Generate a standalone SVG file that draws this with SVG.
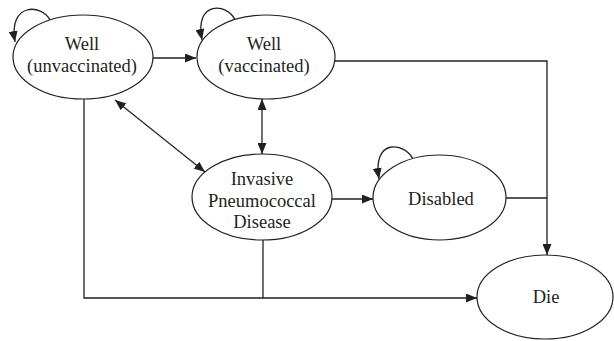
<svg xmlns="http://www.w3.org/2000/svg" width="614" height="341" viewBox="0 0 614 341">
<style>
.node ellipse{fill:#fff;stroke:#231f20;stroke-width:1.2}
.node text{font-family:'Times New Roman','Liberation Serif',Times,'DejaVu Serif','Noto Serif',serif;font-size:18.5px;fill:#231f20;text-anchor:middle}
.conn path{fill:none;stroke:#231f20;stroke-width:1.3}
</style>
<defs>
<marker id="ah" markerUnits="userSpaceOnUse" markerWidth="11" markerHeight="9" refX="11" refY="4.5" orient="auto-start-reverse">
<path d="M0,0 L11,4.5 L0,9 z" fill="#231f20"/>
</marker>
</defs>
<g class="conn">
<path d="M50,20 C42,4 8,2 15,42" marker-end="url(#ah)"/>
<path d="M235,20 C228,3 194,0 202,40" marker-end="url(#ah)"/>
<path d="M413,159 C404,142 372,138 379,179" marker-end="url(#ah)"/>
<path d="M152,58 L196,58" marker-end="url(#ah)"/>
<path d="M335,61 L547,61 L547,255" marker-end="url(#ah)"/>
<path d="M506,198 L547,198"/>
<path d="M262,99 L262,154" marker-start="url(#ah)" marker-end="url(#ah)"/>
<path d="M115,100 L205,172" marker-start="url(#ah)" marker-end="url(#ah)"/>
<path d="M331,199 L373,199" marker-end="url(#ah)"/>
<path d="M84,99 L84,298 L477,298" marker-end="url(#ah)"/>
<path d="M263,240 L263,298"/>
</g>
<g id="well-unvaccinated" class="node">
<ellipse cx="83" cy="57" rx="70" ry="42"/>
<text x="82" y="50">Well</text>
<text x="82" y="72">(unvaccinated)</text>
</g>
<g id="well-vaccinated" class="node">
<ellipse cx="266" cy="57" rx="69" ry="42"/>
<text x="264" y="50">Well</text>
<text x="264" y="72">(vaccinated)</text>
</g>
<g id="ipd" class="node">
<ellipse cx="262" cy="197" rx="70" ry="43"/>
<text x="262" y="185">Invasive</text>
<text x="262" y="207">Pneumococcal</text>
<text x="262" y="228">Disease</text>
</g>
<g id="disabled" class="node">
<ellipse cx="439.5" cy="197.5" rx="66.5" ry="42.5"/>
<text x="441" y="205">Disabled</text>
</g>
<g id="die" class="node">
<ellipse cx="545" cy="297" rx="68" ry="42"/>
<text x="546" y="303">Die</text>
</g>
</svg>
